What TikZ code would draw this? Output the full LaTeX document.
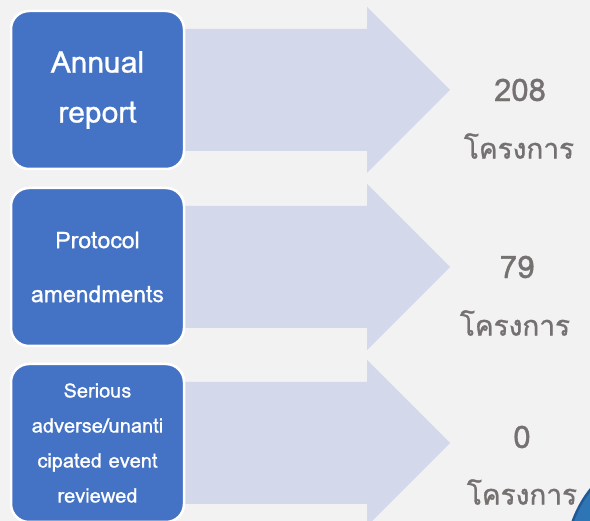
\documentclass[tikz,border=0pt]{standalone}
\usepackage{fontspec}
\newfontfamily\thaifont[Script=Thai,FakeBold=1.2]{Loma}
\newfontfamily\boxfont[FakeBold=0.8]{Loma}
\definecolor{boxblue}{HTML}{4472C4}
\definecolor{arrowlav}{HTML}{D3D8EA}
\definecolor{bggray}{HTML}{F2F2F2}
\definecolor{numgray}{HTML}{767171}
\definecolor{cornerblue}{HTML}{2E75B6}
\definecolor{cornerdark}{HTML}{1F5A96}
\def\bigarrow(#1){\fill[arrowlav] (150,#1-61) -- (367,#1-61) -- (367,#1-83) -- (450,#1) -- (367,#1+83) -- (367,#1+61) -- (150,#1+61) -- cycle;}
\tikzset{
	topic/.style={draw=white, line width=2.5, fill=boxblue, rounded corners=18, minimum width=173, minimum height=158, text=white, align=center, inner sep=0},
	count/.style={text=numgray, align=center, inner sep=0}
}

\begin{document}
\begin{tikzpicture}[x=1pt, y=-1pt]
		%%%%% START %%%%%
		
		\fill[bggray] (0,0) rectangle (590,521);
		\useasboundingbox (0,0) rectangle (590,521);
		\clip (0,0) rectangle (590,521);
		
		\bigarrow(90)
		\bigarrow(267)
		\bigarrow(443)
		
		\node[topic, font=\boxfont\fontsize{30}{50}\selectfont] (annual) at (97.5,90) {Annual\\report};
		\node[topic, font=\boxfont\fontsize{23}{54}\selectfont] (protocol) at (97.5,267) {Protocol\\amendments};
		\node[topic, font=\boxfont\fontsize{20}{35}\selectfont] (serious) at (97.5,443) {Serious\\adverse/unanti\\cipated event\\reviewed};
		
		\node[count, font=\thaifont\fontsize{31}{31}\selectfont] (num1) at (520,90) {208};
		\node[count, font=\thaifont\fontsize{28}{28}\selectfont] (proj1) at (519,146) {โครงการ};
		\node[count, font=\thaifont\fontsize{31}{31}\selectfont] (num2) at (517,267) {79};
		\node[count, font=\thaifont\fontsize{28}{28}\selectfont] (proj2) at (515,323) {โครงการ};
		\node[count, font=\thaifont\fontsize{31}{31}\selectfont] (num3) at (522,437) {0};
		\node[count, font=\thaifont\fontsize{28}{28}\selectfont] (proj3) at (522,492) {โครงการ};
		
		\draw[line width=2.5, draw=cornerdark, fill=cornerblue] (680,560) circle (114);
		
		%%%%% END %%%%%
	\end{tikzpicture}
\end{document}
